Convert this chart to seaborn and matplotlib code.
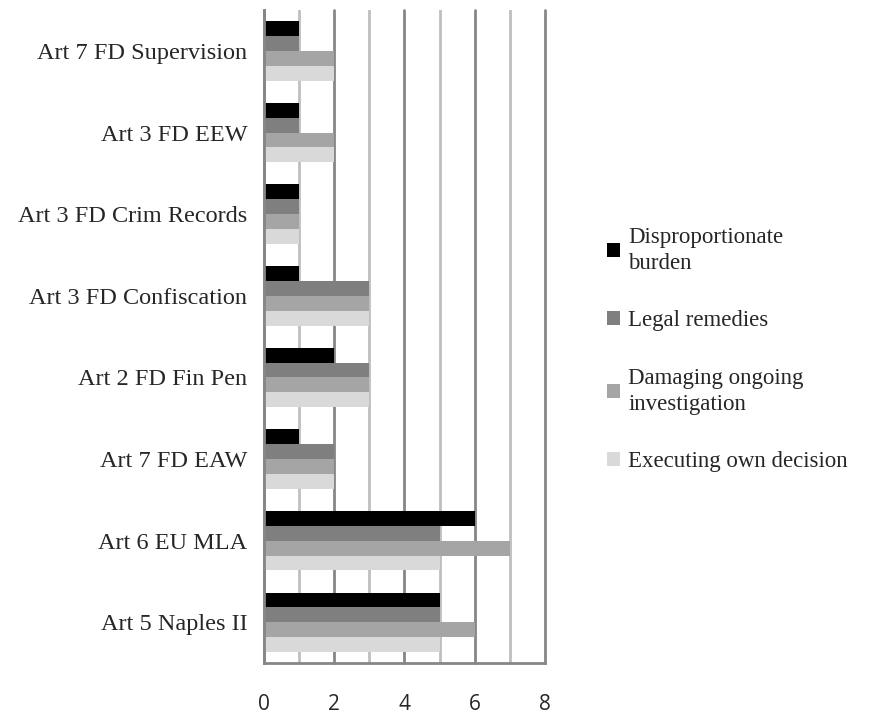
import pandas as pd
import matplotlib.pyplot as plt
import seaborn as sns

# categories top to bottom
articulos = ['Art 7 FD Supervision', 'Art 3 FD EEW', 'Art 3 FD Crim Records',
             'Art 3 FD Confiscation', 'Art 2 FD Fin Pen', 'Art 7 FD EAW',
             'Art 6 EU MLA', 'Art 5 Naples II']

series = ['Disproportionate\nburden', 'Legal remedies',
          'Damaging ongoing\ninvestigation', 'Executing own decision']

desproporcionado = [1, 1, 1, 1, 2, 1, 6, 5]
recursos = [1, 1, 1, 3, 3, 2, 5, 5]
investigacion = [2, 2, 1, 3, 3, 2, 7, 6]
propia_decision = [2, 2, 1, 3, 3, 2, 5, 5]

colores = ['#000000', '#7f7f7f', '#a5a5a5', '#d9d9d9']

filas = []
for nombre, valores in zip(series, [desproporcionado, recursos, investigacion, propia_decision]):
    for art, v in zip(articulos, valores):
        filas.append({'articulo': art, 'motivo': nombre, 'valor': v})
data = pd.DataFrame(filas)

sns.set_style('white')

fig = plt.figure(figsize=(8.74, 7.2), dpi=100)
ax = fig.add_axes([0.302, 0.079, 0.3215, 0.907])

sns.barplot(data=data, y='articulo', x='valor', hue='motivo', order=articulos,
            hue_order=series, palette=colores, orient='h', width=0.73,
            saturation=1, edgecolor='none', linewidth=0, ax=ax)

ax.set_xlim(0, 8)
ax.set_ylim(7.5, -0.5)
ax.set_xticks([0, 2, 4, 6, 8])
ax.set_xticks([1, 3, 5, 7], minor=True)
ax.set_axisbelow(True)
ax.grid(axis='x', which='major', color='#868686', lw=2)
ax.grid(axis='x', which='minor', color='#bfbfbf', lw=2)
ax.grid(axis='y', visible=False)
for g in ax.get_xgridlines():
    g.set_clip_on(False)
ax.set_xlabel('')
ax.set_ylabel('')

for lado in ['top', 'right']:
    ax.spines[lado].set_visible(False)
for lado in ['left', 'bottom']:
    ax.spines[lado].set_color('#868686')
    ax.spines[lado].set_linewidth(2)

ax.tick_params(axis='both', which='both', length=0)
ax.tick_params(axis='x', pad=22)
ax.tick_params(axis='y', pad=12)
for t in ax.get_xticklabels():
    t.set_fontfamily('Open Sans')
    t.set_fontsize(15)
for t in ax.get_yticklabels():
    t.set_fontfamily('Liberation Serif')
    t.set_fontsize(17.5)

leg = ax.legend(loc='center left', bbox_to_anchor=(1.19, 0.48), frameon=False,
                prop={'family': 'Liberation Serif', 'size': 16.5},
                handlelength=0.55, handleheight=0.55, handletextpad=0.35,
                labelspacing=1.6, borderaxespad=0)
for t in leg.get_texts():
    t.set_linespacing(1.3)

plt.savefig('out.png', dpi=100)
